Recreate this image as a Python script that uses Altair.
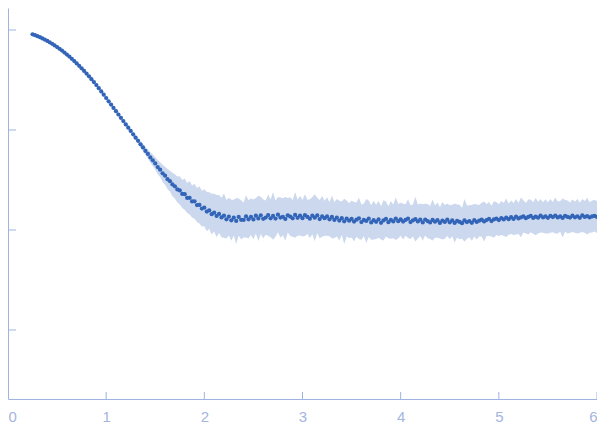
import altair as alt
import pandas as pd

# scattering vector (x) and log10 intensity / log10 error half-width
q = [
    0.250, 0.275, 0.300, 0.325, 0.350, 0.375, 0.400, 0.425, 0.450, 0.475,
    0.500, 0.525, 0.550, 0.575, 0.600, 0.625, 0.650, 0.675, 0.700, 0.725,
    0.750, 0.775, 0.800, 0.825, 0.850, 0.875, 0.900, 0.925, 0.950, 0.975,
    1.000, 1.025, 1.050, 1.075, 1.100, 1.125, 1.150, 1.175, 1.200, 1.225,
    1.250, 1.275, 1.300, 1.325, 1.350, 1.375, 1.400, 1.425, 1.450, 1.475,
    1.500, 1.525, 1.550, 1.575, 1.600, 1.625, 1.650, 1.675, 1.700, 1.725,
    1.750, 1.775, 1.800, 1.825, 1.850, 1.875, 1.900, 1.925, 1.950, 1.975,
    2.000, 2.025, 2.050, 2.075, 2.100, 2.125, 2.150, 2.175, 2.200, 2.225,
    2.250, 2.275, 2.300, 2.325, 2.350, 2.375, 2.400, 2.425, 2.450, 2.475,
    2.500, 2.525, 2.550, 2.575, 2.600, 2.625, 2.650, 2.675, 2.700, 2.725,
    2.750, 2.775, 2.800, 2.825, 2.850, 2.875, 2.900, 2.925, 2.950, 2.975,
    3.000, 3.025, 3.050, 3.075, 3.100, 3.125, 3.150, 3.175, 3.200, 3.225,
    3.250, 3.275, 3.300, 3.325, 3.350, 3.375, 3.400, 3.425, 3.450, 3.475,
    3.500, 3.525, 3.550, 3.575, 3.600, 3.625, 3.650, 3.675, 3.700, 3.725,
    3.750, 3.775, 3.800, 3.825, 3.850, 3.875, 3.900, 3.925, 3.950, 3.975,
    4.000, 4.025, 4.050, 4.075, 4.100, 4.125, 4.150, 4.175, 4.200, 4.225,
    4.250, 4.275, 4.300, 4.325, 4.350, 4.375, 4.400, 4.425, 4.450, 4.475,
    4.500, 4.525, 4.550, 4.575, 4.600, 4.625, 4.650, 4.675, 4.700, 4.725,
    4.750, 4.775, 4.800, 4.825, 4.850, 4.875, 4.900, 4.925, 4.950, 4.975,
    5.000, 5.025, 5.050, 5.075, 5.100, 5.125, 5.150, 5.175, 5.200, 5.225,
    5.250, 5.275, 5.300, 5.325, 5.350, 5.375, 5.400, 5.425, 5.450, 5.475,
    5.500, 5.525, 5.550, 5.575, 5.600, 5.625, 5.650, 5.675, 5.700, 5.725,
    5.750, 5.775, 5.800, 5.825, 5.850, 5.875, 5.900, 5.925, 5.950, 5.975,
    6.000,
]

log_i = [
    -0.043, -0.052, -0.062, -0.072, -0.084, -0.096, -0.109, -0.123, -0.138, -0.154,
    -0.171, -0.188, -0.206, -0.225, -0.245, -0.266, -0.288, -0.310, -0.334, -0.358,
    -0.383, -0.409, -0.436, -0.463, -0.492, -0.521, -0.551, -0.582, -0.614, -0.647,
    -0.680, -0.713, -0.746, -0.779, -0.812, -0.845, -0.878, -0.911, -0.944, -0.977,
    -1.010, -1.043, -1.077, -1.108, -1.143, -1.174, -1.210, -1.240, -1.275, -1.303,
    -1.334, -1.371, -1.397, -1.433, -1.457, -1.492, -1.512, -1.545, -1.563, -1.594,
    -1.604, -1.640, -1.642, -1.679, -1.678, -1.714, -1.713, -1.751, -1.749, -1.786,
    -1.777, -1.816, -1.805, -1.842, -1.826, -1.860, -1.840, -1.875, -1.857, -1.893,
    -1.866, -1.903, -1.877, -1.910, -1.870, -1.898, -1.899, -1.864, -1.893, -1.868,
    -1.894, -1.857, -1.884, -1.853, -1.888, -1.876, -1.851, -1.883, -1.859, -1.886,
    -1.847, -1.876, -1.868, -1.889, -1.853, -1.866, -1.883, -1.849, -1.878, -1.857,
    -1.882, -1.852, -1.869, -1.887, -1.857, -1.877, -1.855, -1.891, -1.864, -1.882,
    -1.865, -1.893, -1.870, -1.900, -1.877, -1.906, -1.882, -1.913, -1.886, -1.907,
    -1.890, -1.916, -1.897, -1.883, -1.921, -1.899, -1.910, -1.887, -1.925, -1.902,
    -1.918, -1.894, -1.928, -1.904, -1.890, -1.922, -1.898, -1.915, -1.886, -1.912,
    -1.893, -1.916, -1.900, -1.887, -1.921, -1.905, -1.891, -1.914, -1.897, -1.924,
    -1.896, -1.911, -1.925, -1.899, -1.917, -1.902, -1.929, -1.907, -1.919, -1.897,
    -1.923, -1.905, -1.930, -1.910, -1.920, -1.932, -1.904, -1.921, -1.912, -1.928,
    -1.902, -1.920, -1.907, -1.896, -1.915, -1.901, -1.890, -1.911, -1.895, -1.886,
    -1.901, -1.881, -1.894, -1.877, -1.892, -1.872, -1.889, -1.867, -1.885, -1.874,
    -1.863, -1.882, -1.870, -1.859, -1.880, -1.867, -1.877, -1.857, -1.875, -1.864,
    -1.878, -1.859, -1.871, -1.856, -1.875, -1.864, -1.879, -1.858, -1.870, -1.876,
    -1.857, -1.873, -1.863, -1.878, -1.855, -1.869, -1.862, -1.875, -1.865, -1.858,
    -1.869,
]

log_err = [
    0.012, 0.012, 0.011, 0.011, 0.011, 0.010, 0.010, 0.010, 0.010, 0.010,
    0.010, 0.010, 0.011, 0.010, 0.011, 0.011, 0.012, 0.011, 0.012, 0.012,
    0.012, 0.013, 0.013, 0.014, 0.013, 0.015, 0.014, 0.016, 0.015, 0.017,
    0.016, 0.018, 0.017, 0.019, 0.020, 0.019, 0.022, 0.021, 0.024, 0.023,
    0.022, 0.026, 0.024, 0.030, 0.033, 0.036, 0.041, 0.046, 0.052, 0.057,
    0.062, 0.071, 0.074, 0.086, 0.090, 0.101, 0.104, 0.117, 0.121, 0.130,
    0.142, 0.139, 0.156, 0.150, 0.168, 0.160, 0.175, 0.170, 0.186, 0.178,
    0.185, 0.196, 0.183, 0.204, 0.189, 0.211, 0.190, 0.198, 0.221, 0.193,
    0.188, 0.205, 0.179, 0.231, 0.184, 0.196, 0.175, 0.212, 0.190, 0.183,
    0.199, 0.177, 0.226, 0.186, 0.194, 0.172, 0.207, 0.189, 0.238, 0.181,
    0.176, 0.201, 0.185, 0.219, 0.173, 0.193, 0.184, 0.228, 0.180, 0.197,
    0.183, 0.209, 0.172, 0.194, 0.186, 0.235, 0.178, 0.191, 0.203, 0.175,
    0.192, 0.170, 0.214, 0.181, 0.187, 0.199, 0.168, 0.226, 0.180, 0.174,
    0.185, 0.196, 0.171, 0.208, 0.177, 0.163, 0.219, 0.182, 0.173, 0.194,
    0.171, 0.183, 0.166, 0.202, 0.174, 0.160, 0.189, 0.168, 0.213, 0.172,
    0.165, 0.178, 0.158, 0.194, 0.169, 0.161, 0.224, 0.170, 0.163, 0.181,
    0.159, 0.172, 0.166, 0.205, 0.161, 0.176, 0.157, 0.187, 0.168, 0.163,
    0.170, 0.158, 0.196, 0.164, 0.173, 0.155, 0.214, 0.166, 0.160, 0.179,
    0.162, 0.175, 0.157, 0.169, 0.201, 0.160, 0.171, 0.154, 0.183, 0.165,
    0.158, 0.170, 0.163, 0.192, 0.156, 0.167, 0.160, 0.178, 0.154, 0.199,
    0.161, 0.152, 0.174, 0.163, 0.157, 0.186, 0.159, 0.168, 0.153, 0.171,
    0.156, 0.169, 0.151, 0.180, 0.160, 0.154, 0.195, 0.158, 0.165, 0.152,
    0.163, 0.155, 0.172, 0.150, 0.166, 0.158, 0.184, 0.153, 0.161, 0.157,
    0.160,
]

x_ticks = [1, 2, 3, 4, 5, 6]
y_ticks = [0.001, 0.01, 0.1, 1]

axis_col = "#9fb3e2"
label_col = "#a3b5e0"

df = pd.DataFrame({"q": q, "log_i": log_i, "log_err": log_err})
df["i"] = 10 ** df["log_i"]
df["lo"] = 10 ** (df["log_i"] - df["log_err"])
df["hi"] = 10 ** (df["log_i"] + df["log_err"])

xscale = alt.Scale(domain=[0, 6], nice=False, zero=False)
yscale = alt.Scale(type="log", domain=[0.000204, 1.66], nice=False)

x_axis = alt.Axis(values=list(range(0, 7)), format="d", ticks=False, grid=False,
                  title=None, labelFontSize=15, labelColor=label_col,
                  labelFont="Liberation Sans", labelPadding=10,
                  domainColor=axis_col, labelFlush=True)
y_axis = alt.Axis(labels=False, ticks=False, grid=False, title=None,
                  domainColor=axis_col)

band = alt.Chart(df).mark_area(color="#cbd8ee", opacity=1).encode(
    x=alt.X("q:Q", scale=xscale, axis=x_axis),
    y=alt.Y("lo:Q", scale=yscale, axis=y_axis),
    y2="hi:Q",
)

points = alt.Chart(df).mark_circle(size=18, color="#3264b8", opacity=1).encode(
    x=alt.X("q:Q", scale=xscale),
    y=alt.Y("i:Q", scale=yscale),
)

# inward ticks drawn as short rules
yt = alt.Chart(pd.DataFrame({"v": y_ticks})).mark_rule(color=axis_col).encode(
    y=alt.Y("v:Q", scale=yscale),
    x=alt.value(0),
    x2=alt.value(8),
)
xt = alt.Chart(pd.DataFrame({"v": x_ticks})).mark_rule(color=axis_col).encode(
    x=alt.X("v:Q", scale=xscale),
    y=alt.value(384),
    y2=alt.value(391),
)

chart = alt.layer(band, points, yt, xt).properties(
    width=589,
    height=391,
    padding={"left": 0, "top": 0, "right": 0, "bottom": 30},
    autosize=alt.AutoSizeParams(type="none"),
).configure_view(stroke=None)

chart.save("out.html", embed_options={"renderer": "svg", "actions": False})
